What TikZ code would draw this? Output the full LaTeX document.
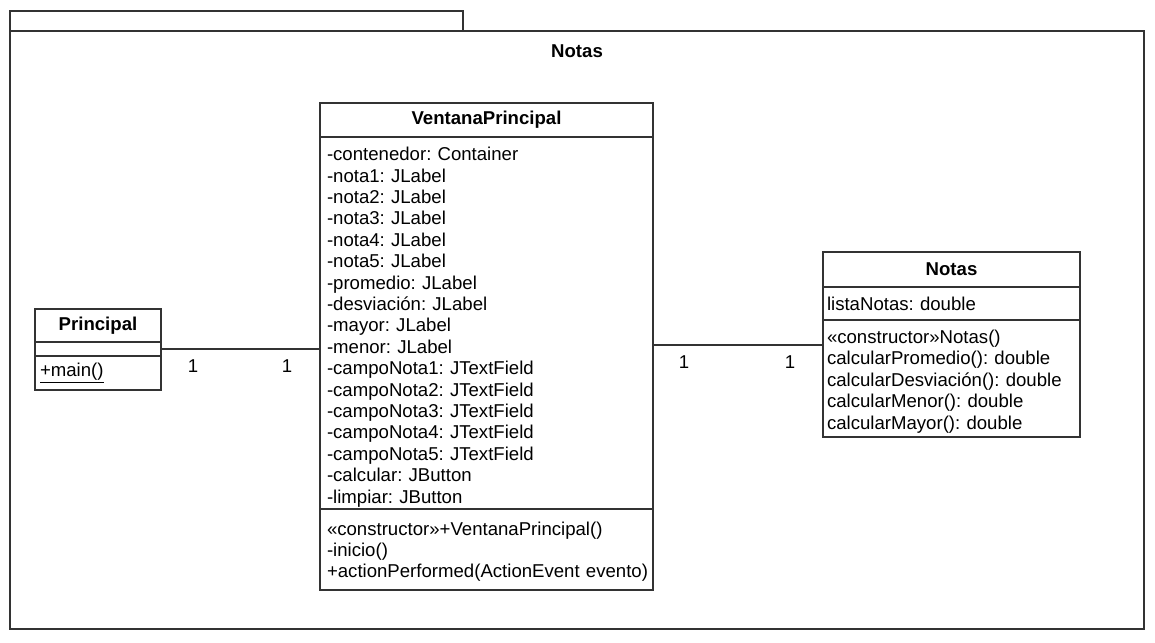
\documentclass[tikz,border=0pt]{standalone}
\usepackage{fontspec}
\setmainfont{Liberation Sans}
\usepackage{tikz}
\usetikzlibrary{positioning}
\frenchspacing

\begin{document}
\begin{tikzpicture}[x=1pt,y=-1pt]
\tikzstyle{every node}+=[inner sep=0pt, outer sep=0pt]
\tikzstyle{box}=[draw=black!80, line width=1.3pt]
\tikzstyle{head}=[box, font=\fontsize{18.6}{21.4}\selectfont\bfseries, align=center, anchor=north west]
\tikzstyle{part}=[box, font=\fontsize{18.6}{21.4}\selectfont, align=left, inner xsep=7pt]
\tikzstyle{link}=[black!80, line width=1.3pt]
\tikzstyle{mult}=[font=\fontsize{18.6}{21.4}\selectfont]
\useasboundingbox (0,0) rectangle (1155,642);
% package frame
\draw [box] (10,11) rectangle (463,31);
\node [box, minimum width=1134pt, minimum height=598pt, anchor=north west] (pkg) at (10,31) {};
\node [font=\fontsize{18.6}{21.4}\selectfont\bfseries] (pkgname) at (577,51) {Notas};
% Principal
\node [head, minimum width=126pt, minimum height=33pt] (phead) at (35,309) {Principal};
\node [part, text width=112pt, minimum height=14pt, below=0pt of phead] (pattr) {};
\node [part, minimum height=34pt, below=0pt of pattr, inner xsep=5pt, text width=116pt] (pmeth) {\underline{+main()}};
% VentanaPrincipal
\node [head, minimum width=333pt, minimum height=34pt] (vhead) at (320,103) {VentanaPrincipal};
\node [part, text width=319pt, minimum height=372pt, below=0pt of vhead] (vattr) {\rule{0pt}{21.5pt}-contenedor: Container\\-nota1: JLabel\\-nota2: JLabel\\-nota3: JLabel\\-nota4: JLabel\\-nota5: JLabel\\-promedio: JLabel\\-desviación: JLabel\\-mayor: JLabel\\-menor: JLabel\\-campoNota1: JTextField\\-campoNota2: JTextField\\-campoNota3: JTextField\\-campoNota4: JTextField\\-campoNota5: JTextField\\-calcular: JButton\\-limpiar: JButton};
\node [part, text width=319pt, minimum height=81pt, below=0pt of vattr] (vmeth) {\rule{0pt}{18pt}«constructor»+VentanaPrincipal()\\-inicio()\\+actionPerformed(ActionEvent~evento)};
% Notas
\node [head, minimum width=257pt, minimum height=35pt] (nhead) at (823,252) {Notas};
\node [part, minimum height=33pt, below=0pt of nhead, inner xsep=4pt, text width=249pt] (nattr) {listaNotas: double};
\node [part, minimum height=117pt, below=0pt of nattr, inner xsep=4pt, text width=249pt] (nmeth) {\rule{0pt}{19.5pt}«constructor»Notas()\\calcularPromedio(): double\\calcularDesviación(): double\\calcularMenor(): double\\calcularMayor(): double};
% associations
\coordinate (nend) at (823,345);
\draw [link] (pattr.east) -- (pattr.east -| vattr.west);
\draw [link] (vattr.east |- nend) -- (nend);
\node [mult] (m1) at (193,366) {1};
\node [mult] (m2) at (287,366) {1};
\node [mult] (m3) at (684,362) {1};
\node [mult] (m4) at (790,362) {1};
\end{tikzpicture}
\end{document}
